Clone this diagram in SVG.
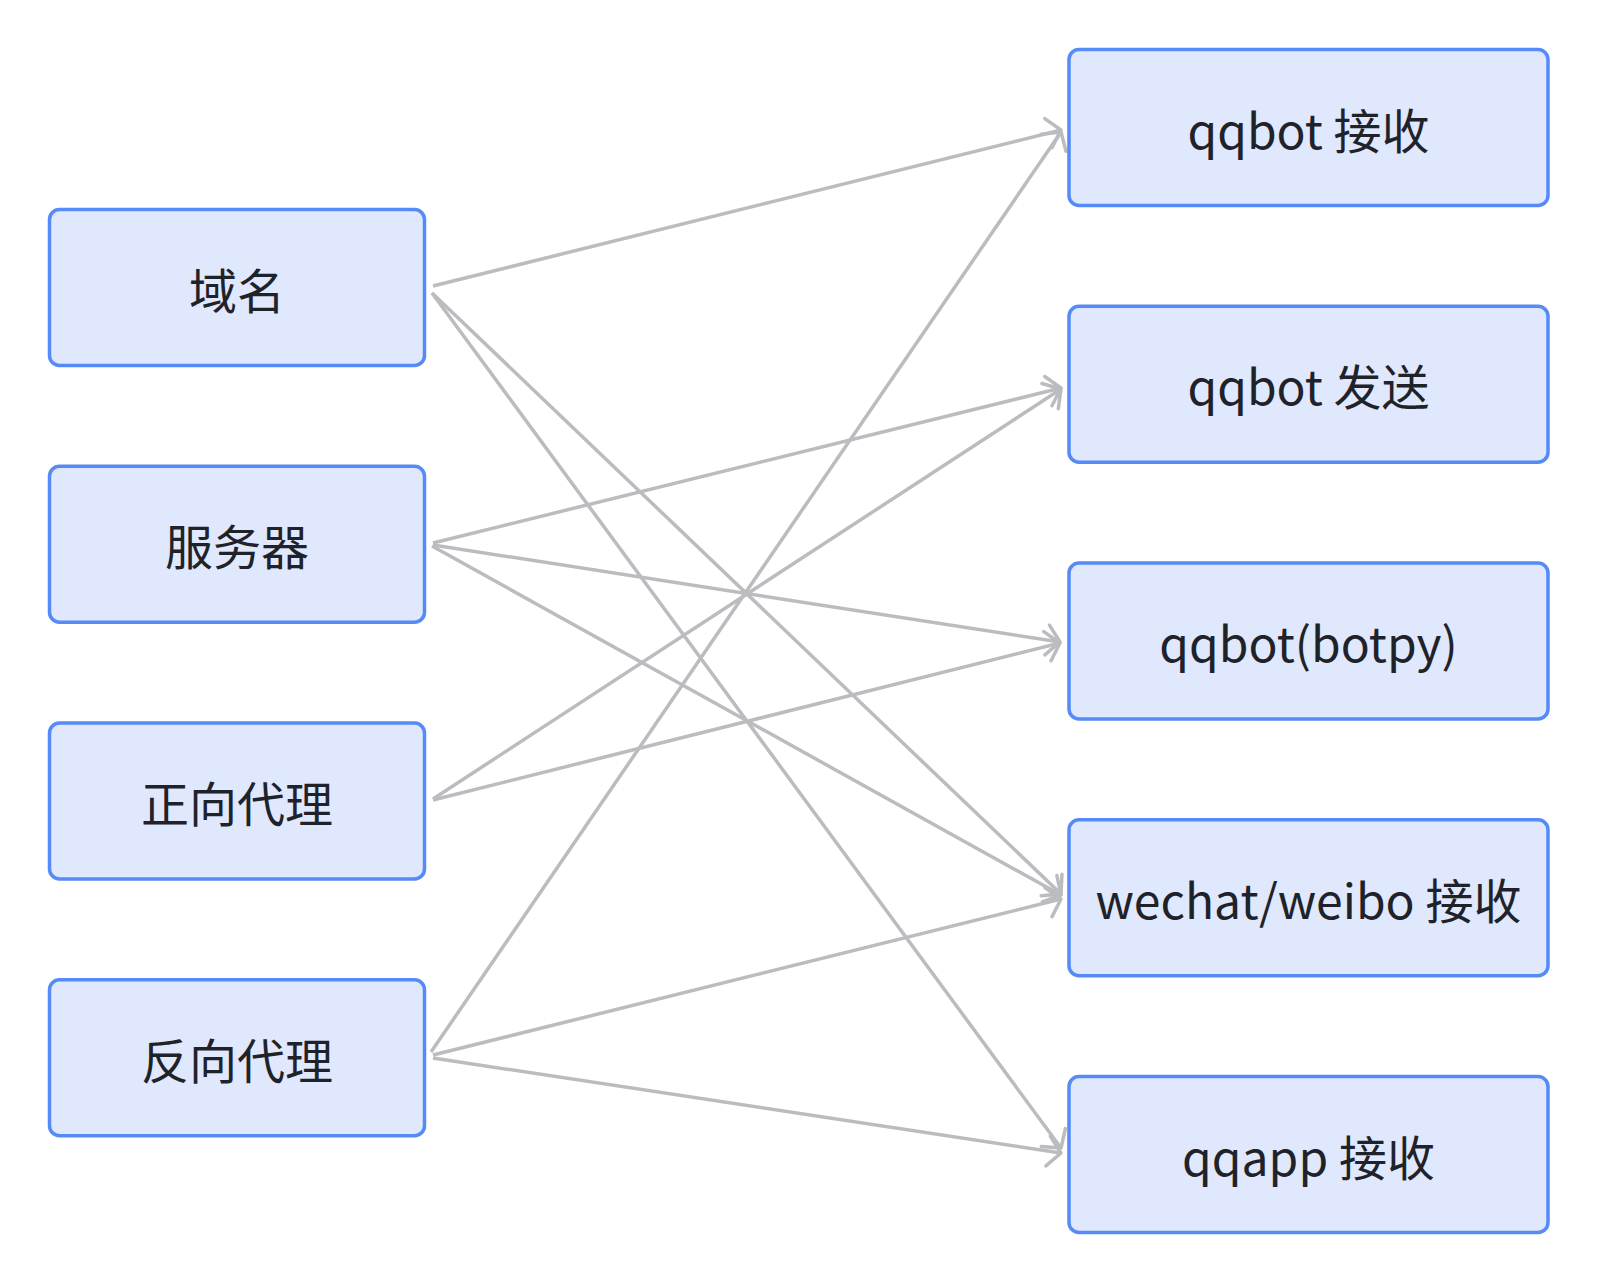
<svg xmlns="http://www.w3.org/2000/svg" width="1600" height="1284" viewBox="0 0 1600 1284">
<defs>
<style>
.node rect{fill:#e0e8fd;stroke:#568af6;stroke-width:3.5}
.node text{font-family:"Noto Sans CJK SC","Noto Sans",sans-serif;font-size:48px;fill:#1f2329;text-anchor:middle;dominant-baseline:central}
.edges path{fill:none;stroke:#bbbcc0;stroke-width:3.5;marker-end:url(#arr)}
</style>
<marker id="arr" markerUnits="userSpaceOnUse" viewBox="-18 -20 22 40" refX="0" refY="0" markerWidth="22" markerHeight="40" orient="auto">
<path d="M -13 -15 L 0 0 L -13 15" fill="none" stroke="#bbbcc0" stroke-width="3.5" stroke-linecap="round" stroke-linejoin="round"/>
</marker>
</defs>
<rect width="1600" height="1284" fill="#ffffff"/>
<g class="edges">
<path d="M 433 286 L 1061 130"/>
<path d="M 432 293 L 1061 894"/>
<path d="M 432 293 L 1061 1148"/>
<path d="M 433 543 L 1061 388"/>
<path d="M 433 545 L 1060 642"/>
<path d="M 432 546 L 1061 895"/>
<path d="M 433 799 L 1061 389"/>
<path d="M 433 800 L 1060 643"/>
<path d="M 431 1052 L 1061 132"/>
<path d="M 433 1055 L 1061 899"/>
<path d="M 433 1058 L 1061 1153"/>
</g>
<g id="n-yuming" class="node"><rect x="49.5" y="209.5" width="375" height="156" rx="10"/><text x="237" y="287.5">域名</text></g>
<g id="n-fuwuqi" class="node"><rect x="49.5" y="466.25" width="375" height="156" rx="10"/><text x="237" y="544.25">服务器</text></g>
<g id="n-zhengxiang" class="node"><rect x="49.5" y="723" width="375" height="156" rx="10"/><text x="237" y="801">正向代理</text></g>
<g id="n-fanxiang" class="node"><rect x="49.5" y="979.75" width="375" height="156" rx="10"/><text x="237" y="1057.75">反向代理</text></g>
<g id="n-qqbot-recv" class="node"><rect x="1069" y="49.5" width="479" height="156" rx="10"/><text x="1308.5" y="127.5">qqbot 接收</text></g>
<g id="n-qqbot-send" class="node"><rect x="1069" y="306.25" width="479" height="156" rx="10"/><text x="1308.5" y="384.25">qqbot 发送</text></g>
<g id="n-botpy" class="node"><rect x="1069" y="563" width="479" height="156" rx="10"/><text x="1308.5" y="641">qqbot(botpy)</text></g>
<g id="n-wechat" class="node"><rect x="1069" y="819.75" width="479" height="156" rx="10"/><text x="1308.5" y="897.75">wechat/weibo 接收</text></g>
<g id="n-qqapp" class="node"><rect x="1069" y="1076.5" width="479" height="156" rx="10"/><text x="1308.5" y="1154.5">qqapp 接收</text></g>
</svg>
